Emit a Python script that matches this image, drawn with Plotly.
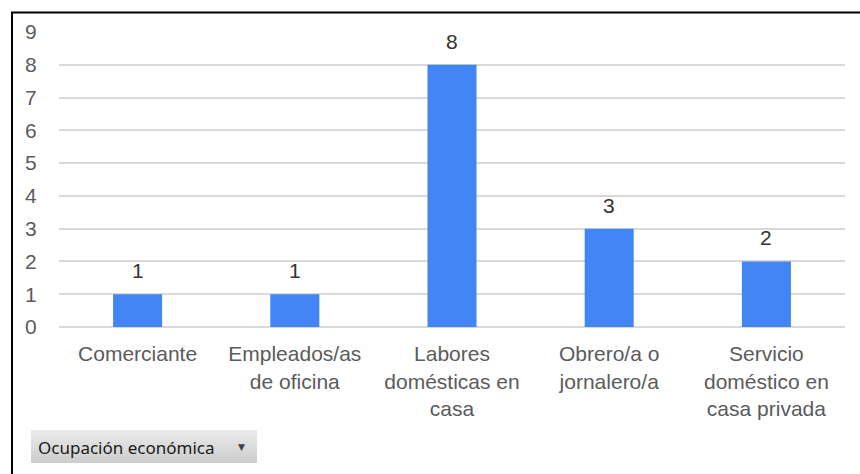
import plotly.graph_objects as go

categories = ["Comerciante", "Empleados/as<br>de oficina", "Labores<br>domésticas en<br>casa",
              "Obrero/a o<br>jornalero/a", "Servicio<br>doméstico en<br>casa privada"]
values = [1, 1, 8, 3, 2]
y_ticks = list(range(0, 10))
button_label = "Ocupación económica"

W, H = 860, 474
ML, MR, MT, MB = 59, 15, 32, 147
PW, PH = W - ML - MR, H - MT - MB

def px_x(x):
    return (x - ML) / PW

def px_y(y):
    return (H - MB - y) / PH

TXT = "#5b5b5b"
FONT = "Liberation Sans, Arial, sans-serif"

fig = go.Figure(go.Bar(
    x=categories, y=values,
    marker=dict(color="#4285F4", line=dict(width=0)),
    hoverinfo="skip",
))

annotations = [
    dict(x=c, y=v, xref="x", yref="y", text=str(v), showarrow=False,
         yanchor="bottom", yshift=10, font=dict(family=FONT, size=21, color="#333333"))
    for c, v in zip(categories, values)
]

shapes = []
# gradient button
top, bot = 430, 463
n = 11
for i in range(n):
    y0 = top + (bot - top) * i / n
    y1 = top + (bot - top) * (i + 1) / n
    t = i / (n - 1)
    g = int(234 - t * (234 - 206))
    shapes.append(dict(type="rect", xref="paper", yref="paper",
                       x0=px_x(31), x1=px_x(257), y0=px_y(y1), y1=px_y(y0),
                       fillcolor=f"rgb({g},{g},{g})", line=dict(width=0), layer="above"))
annotations.append(dict(xref="paper", yref="paper", x=px_x(36), y=px_y(447),
                        xanchor="left", yanchor="middle", showarrow=False,
                        text=button_label,
                        font=dict(family="Noto Sans, Open Sans, sans-serif", size=17, color="#1a1a1a")))
annotations.append(dict(xref="paper", yref="paper", x=px_x(241), y=px_y(447),
                        xanchor="center", yanchor="middle", showarrow=False,
                        text="▼", font=dict(family="DejaVu Sans", size=9, color="#404040")))
# black border (left & top)
shapes.append(dict(type="line", xref="paper", yref="paper",
                   x0=px_x(12), x1=px_x(12), y0=px_y(12), y1=px_y(480),
                   line=dict(color="black", width=2)))
shapes.append(dict(type="line", xref="paper", yref="paper",
                   x0=px_x(11), x1=px_x(870), y0=px_y(12.5), y1=px_y(12.5),
                   line=dict(color="black", width=2)))

fig.update_layout(
    width=W, height=H,
    margin=dict(l=ML, r=MR, t=MT, b=MB, pad=0),
    paper_bgcolor="white", plot_bgcolor="white",
    bargap=0.688,
    showlegend=False,
    font=dict(family=FONT, size=21, color=TXT),
    annotations=annotations,
    shapes=shapes,
    xaxis=dict(showgrid=False, showline=False, zeroline=False,
               ticks="outside", ticklen=8, tickcolor="rgba(0,0,0,0)",
               tickfont=dict(family=FONT, size=21, color=TXT)),
    yaxis=dict(range=[0, 9], tickvals=y_ticks, showgrid=True, gridcolor="#d9d9d9",
               gridwidth=2, zeroline=True, zerolinecolor="#d9d9d9", zerolinewidth=2,
               showline=False, ticks="outside", ticklen=17, tickcolor="rgba(0,0,0,0)",
               tickfont=dict(family=FONT, size=21, color=TXT)),
)

fig.write_html("out.html", config={"displayModeBar": False},
               post_script="document.body.style.margin='0';document.body.style.overflow='hidden';")
